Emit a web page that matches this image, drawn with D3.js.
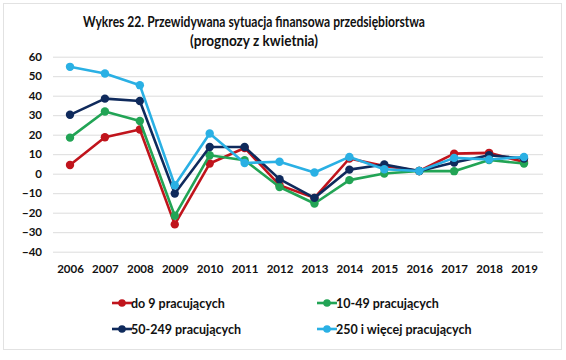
<!DOCTYPE html>
<html><head><meta charset="utf-8">
<script src="https://cdn.jsdelivr.net/npm/d3@7/dist/d3.min.js"></script>
<style>
body{margin:0;background:#fff;}
text{font-family:Lato,"Open Sans",sans-serif;}
</style></head>
<body><svg id="c" width="566" height="360"></svg>
<script>
const years = ["2006","2007","2008","2009","2010","2011","2012","2013","2014","2015","2016","2017","2018","2019"];
const do9 = [4.5,18.7,22.7,-26,5.2,13.2,-5.9,-12.4,7.8,4.0,1.4,10.3,10.7,6.0];
const s10_49 = [18.5,31.9,27,-21.6,9.5,6.9,-6.8,-15.3,-3.3,0.1,1.4,1.3,7.0,5.2];
const s50_249 = [30.2,38.5,37.3,-10.2,13.7,13.7,-2.8,-12.4,2.1,4.7,1.4,5.7,9.5,7.8];
const s250 = [54.8,51.4,45.4,-5.9,20.6,5.5,6.1,0.6,8.6,2.3,1.4,8.1,7.3,8.6];
const yTicks = [60,50,40,30,20,10,0,-10,-20,-30,-40];
const seriesNames = ["do 9 pracujących","10-49 pracujących","50-249 pracujących","250 i więcej pracujących"];
const colors = ["#c0141c","#22a455","#0f2a5c","#2ab0e4"];
const series = [do9, s10_49, s50_249, s250];

const svg = d3.select("#c");
svg.append("rect").attr("x",3.5).attr("y",3.5).attr("width",558).attr("height",346)
  .attr("fill","#fff").attr("stroke","#e2e2e2");

svg.append("text").attr("x",254).attr("y",27).attr("text-anchor","middle")
  .style("font-size","14.5px").style("font-weight","bold").attr("fill","#111")
  .attr("textLength",342).attr("lengthAdjust","spacingAndGlyphs")
  .text("Wykres 22. Przewidywana sytuacja finansowa przedsiębiorstwa");
svg.append("text").attr("x",254).attr("y",46).attr("text-anchor","middle")
  .style("font-size","14.5px").style("font-weight","bold").attr("fill","#111")
  .attr("textLength",128).attr("lengthAdjust","spacingAndGlyphs")
  .text("(prognozy z kwietnia)");

const y = d3.scaleLinear().domain([-40,60]).range([251.7,56.7]);
const x = d3.scalePoint().domain(years).range([70,524]);

const yAxis = d3.axisLeft(y).tickValues(yTicks).tickSize(-490).tickFormat(d3.format("d"));
const gy = svg.append("g").attr("transform","translate(53,0)").call(yAxis);
gy.select(".domain").remove();
gy.selectAll("line").attr("stroke","#dcdcdc").attr("stroke-width",1);
gy.selectAll("text").attr("x",-11).attr("fill","#111").style("font-size","11.5px").style("font-weight","bold");

const xAxis = d3.axisBottom(x).tickSize(0);
const gx = svg.append("g").attr("transform","translate(0,262)").call(xAxis);
gx.select(".domain").remove();
gx.selectAll("text").attr("fill","#111").style("font-size","11.5px").style("font-weight","bold");

const line = d3.line().x((d,i)=>x(years[i])).y(d=>y(d));
series.forEach((s,k)=>{
  const g = svg.append("g");
  g.append("path").datum(s).attr("d",line).attr("fill","none")
    .attr("stroke",colors[k]).attr("stroke-width",2.6).attr("stroke-linejoin","round");
  g.selectAll("circle").data(s).join("circle")
    .attr("cx",(d,i)=>x(years[i])).attr("cy",d=>y(d)).attr("r",4.2).attr("fill",colors[k]);
});

const legPos = [[112,303],[317,303],[112,329],[317,329]];
seriesNames.forEach((n,k)=>{
  const [lx,ly] = legPos[k];
  svg.append("line").attr("x1",lx).attr("x2",lx+20).attr("y1",ly).attr("y2",ly)
    .attr("stroke",colors[k]).attr("stroke-width",2.6);
  svg.append("circle").attr("cx",lx+10).attr("cy",ly).attr("r",3.8).attr("fill",colors[k]);
  svg.append("text").attr("x",lx+19).attr("y",ly+4.5).attr("fill","#111")
    .style("font-size","12.5px").style("font-weight","bold").text(n);
});
</script></body></html>
